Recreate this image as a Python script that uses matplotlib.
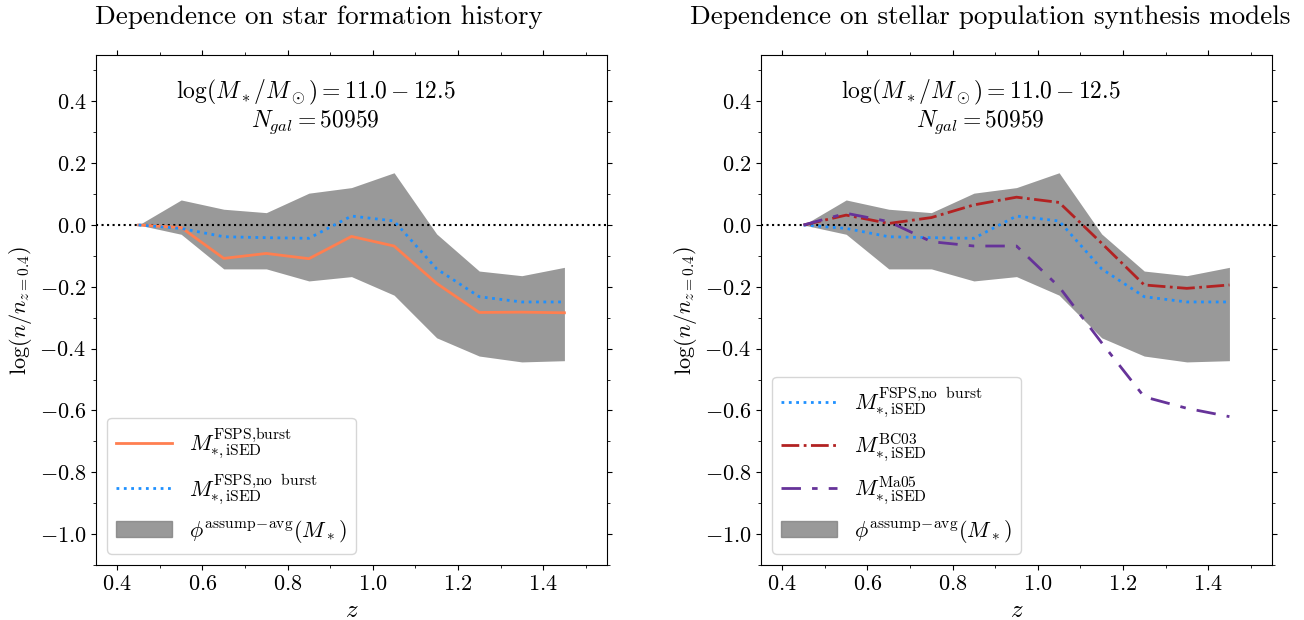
import numpy as np
import matplotlib
matplotlib.use("Agg")
import matplotlib.pyplot as plt
from matplotlib.patches import Patch

plt.rcParams['font.family'] = 'serif'
plt.rcParams['font.serif'] = ['cmr10']
plt.rcParams['mathtext.fontset'] = 'cm'
plt.rcParams['axes.formatter.use_mathtext'] = True
plt.rcParams['axes.unicode_minus'] = True

# redshift bin centres
z = [0.45, 0.55, 0.65, 0.75, 0.85, 0.95, 1.05, 1.15, 1.25, 1.35, 1.45]

# spread of all assumptions (phi^assump-avg)
band_hi = [0.0, 0.081, 0.051, 0.040, 0.103, 0.121, 0.169, -0.029, -0.149, -0.164, -0.137]
band_lo = [0.0, -0.030, -0.142, -0.142, -0.181, -0.167, -0.227, -0.365, -0.424, -0.443, -0.439]

# FSPS with / without bursts
fsps_burst = [0.0, -0.008, -0.108, -0.092, -0.109, -0.037, -0.068, -0.189, -0.283, -0.282, -0.284]
fsps_noburst = [0.0, -0.011, -0.038, -0.041, -0.043, 0.029, 0.013, -0.142, -0.232, -0.249, -0.249]

# other SPS models
bc03 = [0.0, 0.032, 0.005, 0.024, 0.065, 0.090, 0.073, -0.059, -0.194, -0.205, -0.194]
ma05 = [0.0, 0.038, 0.011, -0.054, -0.068, -0.068, -0.200, -0.381, -0.556, -0.593, -0.620]

lab_burst = r'$M_{*,\rm iSED}^{\rm FSPS{,}burst}$'
lab_noburst = r'$M_{*,\rm iSED}^{\rm FSPS{,}no\ \ burst}$'
lab_bc03 = r'$M_{*,\rm iSED}^{\rm BC03}$'
lab_ma05 = r'$M_{*,\rm iSED}^{\rm Ma05}$'
lab_band = r'$\phi^{\rm assump\!-\!avg}(M_*)$'

fig = plt.figure(figsize=(13.04, 6.2), dpi=100)
ax1 = fig.add_axes([96/1304, 55/620, 511/1304, 510/620])
ax2 = fig.add_axes([761/1304, 55/620, 511/1304, 510/620])


def setup(ax, title, tx):
    band = ax.fill_between(z, band_lo, band_hi, color='gray', alpha=0.8, lw=0)
    ax.axhline(0, color='k', ls=':', lw=1.5)
    ax.set_xlim(0.35, 1.55)
    ax.set_ylim(-1.1, 0.55)
    ax.set_xticks([0.4, 0.6, 0.8, 1.0, 1.2, 1.4])
    ax.set_xticks(np.arange(0.4, 1.55, 0.1), minor=True)
    ax.set_yticks([-1.0, -0.8, -0.6, -0.4, -0.2, 0.0, 0.2, 0.4])
    ax.set_yticks(np.arange(-1.1, 0.55, 0.1), minor=True)
    ax.tick_params(which='both', top=True, right=True, labelsize=16)
    ax.set_xlabel(r'$z$', fontsize=18)
    ax.set_ylabel(r'$\log(n/n_{z=0.4})$', fontsize=16)
    ax.text(0.43, 0.927, r'$\log(M_*/M_\odot) = 11.0 - 12.5$', transform=ax.transAxes,
            ha='center', va='center', fontsize=17)
    ax.text(0.43, 0.869, r'$N_{gal} = 50959$', transform=ax.transAxes,
            ha='center', va='center', fontsize=17)
    ax.text(tx, 1.075, title, transform=ax.transAxes, ha='center', va='center', fontsize=19.5)
    return band


band1 = setup(ax1, 'Dependence on star formation history', 0.437)
l1, = ax1.plot(z, fsps_burst, color='coral', lw=2)
l2, = ax1.plot(z, fsps_noburst, color='dodgerblue', ls=':', lw=2)
ax1.legend([l1, l2, Patch(color='gray', alpha=0.8)], [lab_burst, lab_noburst, lab_band],
           loc='lower left', fontsize=16, handlelength=2.5)

band2 = setup(ax2, 'Dependence on stellar population synthesis models', 0.448)
r1, = ax2.plot(z, fsps_noburst, color='dodgerblue', ls=':', lw=2)
r2, = ax2.plot(z, bc03, color='firebrick', ls='-.', lw=2)
r3, = ax2.plot(z, ma05, color='rebeccapurple', ls=(0, (7, 4, 2, 4)), lw=2)
ax2.legend([r1, r2, r3, Patch(color='gray', alpha=0.8)], [lab_noburst, lab_bc03, lab_ma05, lab_band],
           loc='lower left', fontsize=16, handlelength=2.5)

fig.savefig('out.png', dpi=100)
